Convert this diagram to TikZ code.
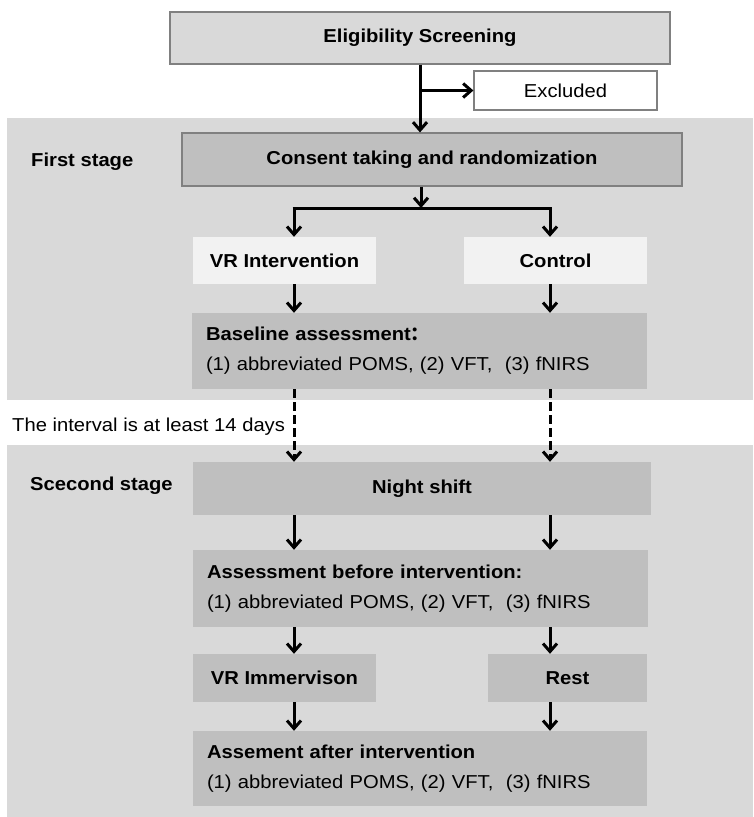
\documentclass[tikz,border=0pt]{standalone}
\usepackage{fontspec}
\setmainfont[FakeStretch=1.08]{Liberation Sans}
\newfontfamily\cjk{Noto Sans CJK SC}
\usetikzlibrary{arrows.meta}
\definecolor{stagebg}{HTML}{D9D9D9}
\definecolor{boxdark}{HTML}{BFBFBF}
\definecolor{boxlight}{HTML}{F2F2F2}
\definecolor{edgegray}{HTML}{808080}
\tikzset{
  arr/.style={line width=3pt, -{Straight Barb[length=8pt,width=14pt]}},
  dasharr/.style={arr, dash pattern=on 9pt off 4pt},
  plainline/.style={line width=3pt},
  fbox/.style={inner sep=0pt, font=\fontsize{18.7}{22}\selectfont},
  darkbox/.style={fbox, fill=boxdark},
  lightbox/.style={fbox, fill=boxlight},
  multibox/.style={darkbox, align=left, font=\fontsize{18.7}{30}\selectfont},
  stagelabel/.style={anchor=west, inner sep=0pt, font=\fontsize{18.7}{22}\selectfont\bfseries},
}
\begin{document}
\begin{tikzpicture}[x=1pt,y=-1pt]
\useasboundingbox (0,0) rectangle (753,817);
% stage backgrounds
\fill[stagebg] (7,118) rectangle (753,400);
\fill[stagebg] (7,445) rectangle (753,817);
% helper coordinates for the two columns
\coordinate (L) at (294,0);
\coordinate (R) at (550,0);
% nodes
\node[fbox, fill=stagebg, draw=edgegray, line width=1.2pt, minimum width=500pt, minimum height=52pt] (elig) at (420,38) {\bfseries Eligibility Screening};
\node[fbox, fill=white, draw=edgegray, line width=1.2pt, minimum width=183pt, minimum height=39pt] (excl) at (565.5,90.5) {Excluded};
\node[stagelabel] (first) at (31,162) {First stage};
\node[darkbox, draw=edgegray, line width=1.2pt, minimum width=500pt, minimum height=53pt] (cons) at (432,159.5) {\bfseries Consent taking and randomization};
\coordinate (split) at (421,208);
\node[lightbox, minimum width=183pt, minimum height=47pt] (vr) at (284.5,260.5) {\bfseries VR Intervention};
\node[lightbox, minimum width=183pt, minimum height=47pt] (ctrl) at (555.5,260.5) {\bfseries Control};
\node[multibox, minimum width=455pt, minimum height=76pt, text width=427pt] (base) at (419.5,351) {\textbf{Baseline assessment{\cjk\bfseries ：}}\\(1) abbreviated POMS, (2) VFT,~ (3) fNIRS};
\node[anchor=west, inner sep=0pt, font=\fontsize{18.7}{22}\selectfont] (interval) at (12,427) {The interval is at least 14 days};
\node[stagelabel] (second) at (30,486) {Scecond stage};
\node[darkbox, minimum width=458pt, minimum height=53pt] (night) at (422,488.5) {\bfseries Night shift};
\node[multibox, minimum width=455pt, minimum height=77pt, text width=427pt] (before) at (420.5,588.5) {\textbf{Assessment before intervention:}\\(1) abbreviated POMS, (2) VFT,~ (3) fNIRS};
\node[darkbox, minimum width=183pt, minimum height=48pt] (imm) at (284.5,678) {\bfseries VR Immervison};
\node[darkbox, minimum width=159pt, minimum height=48pt] (rest) at (567.5,678) {\bfseries Rest};
\node[multibox, minimum width=454pt, minimum height=75pt, text width=426pt] (after) at (420,768.5) {\textbf{Assement after intervention}\\(1) abbreviated POMS, (2) VFT,~ (3) fNIRS};
% connectors
\draw[arr] (elig.south) -- (elig.south |- cons.north);
\draw[arr] (elig.south |- excl.west) -- (excl.west);
\draw[arr] (cons.south -| split) -- (split);
\draw[plainline] ([xshift=-1.5pt]split -| L) -- ([xshift=1.5pt]split -| R);
\draw[arr] ([yshift=-1.5pt]split -| L) -- (vr.north -| L);
\draw[arr] ([yshift=-1.5pt]split -| R) -- (ctrl.north -| R);
\draw[arr] (vr.south -| L) -- (base.north -| L);
\draw[arr] (ctrl.south -| R) -- (base.north -| R);
\draw[dasharr] (base.south -| L) -- (night.north -| L);
\draw[dasharr] (base.south -| R) -- (night.north -| R);
\draw[arr] (night.south -| L) -- (before.north -| L);
\draw[arr] (night.south -| R) -- (before.north -| R);
\draw[arr] (before.south -| L) -- (imm.north -| L);
\draw[arr] (before.south -| R) -- (rest.north -| R);
\draw[arr] (imm.south -| L) -- (after.north -| L);
\draw[arr] (rest.south -| R) -- (after.north -| R);
\end{tikzpicture}
\end{document}
